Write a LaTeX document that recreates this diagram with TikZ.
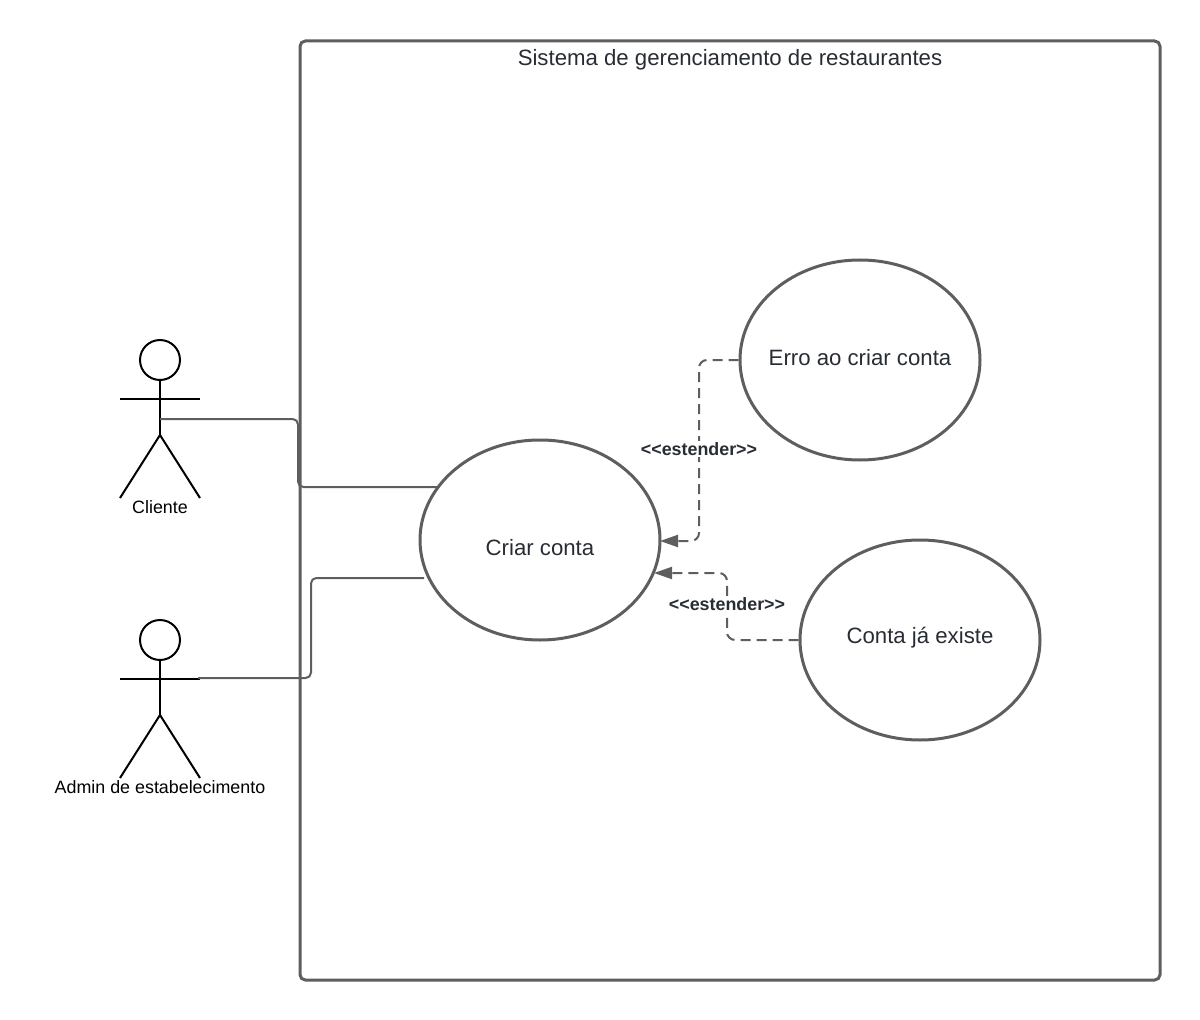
\documentclass[tikz,border=0pt]{standalone}
\usepackage{fontspec}
\setmainfont{Liberation Sans}
\usetikzlibrary{shapes.geometric,arrows.meta}
\definecolor{linha}{HTML}{5E5E5E}
\definecolor{texto}{HTML}{282C33}
\tikzset{
  usecase/.style={ellipse,draw=linha,line width=2.25pt,minimum width=180pt,minimum height=150pt,inner sep=0pt},
  casetext/.style={text=texto,font=\fontsize{16.65}{20}\selectfont},
  boneco/.style={draw=black,line width=1.5pt},
  rotulo/.style={text=black,font=\fontsize{13.4}{16}\selectfont},
  assoc/.style={draw=linha,line width=1.5pt,rounded corners=4pt},
  estende/.style={draw=linha,line width=1.5pt,rounded corners=6pt,dash pattern=on 7.5pt off 4.5pt,-{Triangle[length=13.5pt,width=9pt]}},
  estereotipo/.style={fill=white,inner sep=1pt,text=texto,font=\bfseries\fontsize{13.4}{16}\selectfont}
}
\begin{document}
\begin{tikzpicture}[x=0.75pt,y=-0.75pt]
    \useasboundingbox (0,0) rectangle (1200,1020);
    % The system boundary
    \draw[draw=linha,line width=2.25pt,rounded corners=4pt] (300,41) rectangle (1160,980);
    \node[casetext] (titulo) at (730,59.5) {Sistema de gerenciamento de restaurantes};

    % The use cases
    \node[usecase] (criar) at (540,540) {};
    \node[usecase] (erro) at (860,360) {};
    \node[usecase] (existe) at (920,640) {};
    \node[casetext] (criarTexto) at (540,547.5) {Criar conta};
    \node[casetext] (erroTexto) at (860,357.5) {Erro ao criar conta};
    \node[casetext] (existeTexto) at (920,637.5) {Conta já existe};

    % The actors
    \draw[boneco] (160,360) circle (20);
    \draw[boneco] (160,380) -- (160,435);
    \draw[boneco] (120,399) -- (200,399);
    \draw[boneco] (120,498) -- (160,435) -- (200,498);
    \node[rotulo] (cliente) at (160,507) {Cliente};
    \draw[boneco] (160,640) circle (20);
    \draw[boneco] (160,660) -- (160,715);
    \draw[boneco] (120,679) -- (200,679);
    \draw[boneco] (120,778) -- (160,715) -- (200,778);
    \node[rotulo] (admin) at (160,787) {Admin de estabelecimento};

    % The associations
    \coordinate (maoCliente) at (160,419);
    \coordinate (entradaCliente) at (438,487);
    \coordinate (maoAdmin) at (198,678);
    \coordinate (entradaAdmin) at (424,578);
    \draw[assoc] (maoCliente) -- (298,419) -- (298,487) -- (entradaCliente);
    \draw[assoc] (maoAdmin) -- (311,678) -- (311,578) -- (entradaAdmin);

    % The extensions
    \coordinate (pontaErro) at (660,541);
    \coordinate (pontaExiste) at (654,573);
    \draw[estende] (erro.west) -- (699,360) -- (699,541) -- (pontaErro);
    \draw[estende] (existe.west) -- (727,640) -- (727,573) -- (pontaExiste);
    \node[estereotipo] (estenderErro) at (699,449) {<{}<estender>{}>};
    \node[estereotipo] (estenderExiste) at (727,604) {<{}<estender>{}>};
\end{tikzpicture}
\end{document}
